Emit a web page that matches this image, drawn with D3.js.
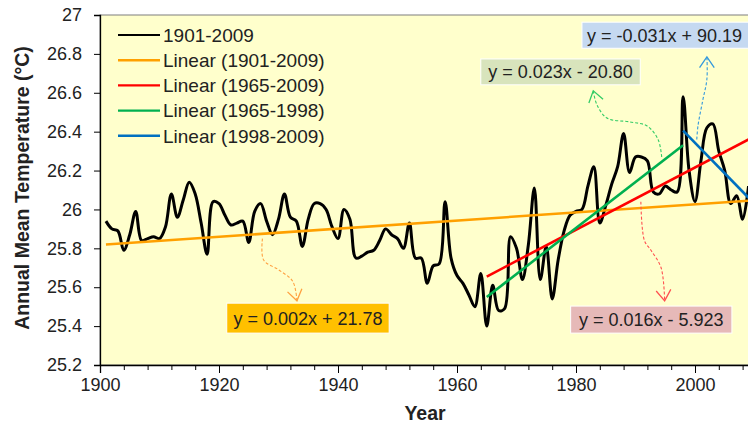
<!DOCTYPE html>
<html>
<head>
<meta charset="utf-8">
<script src="https://d3js.org/d3.v7.min.js"></script>
<style>
  body { margin: 0; background: #fff; }
  text { font-family: Arial, "Liberation Sans", sans-serif; fill: #222; }
</style>
</head>
<body>
<script>
/*
  Data
*/
var firstYear = 1901;
var temps = [
  25.94, 25.90, 25.89, 25.79, 25.87, 25.99, 25.84, 25.85, 25.86, 25.85,
  25.91, 26.08, 25.96, 26.05, 26.14, 26.08, 25.93, 25.77, 26.04, 26.03,
  25.97, 25.92, 25.93, 25.94, 25.83, 25.99, 26.03, 25.94, 25.87, 25.95,
  26.08, 25.96, 25.94, 25.81, 25.95, 26.03, 26.03, 26.00, 25.91, 25.85,
  26.00, 25.95, 25.75, 25.76, 25.78, 25.79, 25.84, 25.90, 25.87, 25.85,
  25.80, 25.93, 25.75, 25.75, 25.62, 25.71, 25.72, 26.04, 25.75, 25.66,
  25.62, 25.56, 25.50, 25.67, 25.40, 25.61, 25.48, 25.49, 25.86, 25.80,
  25.64, 25.82, 26.11, 25.64, 25.81, 25.54, 25.74, 25.89, 25.97, 25.99,
  26.00, 26.12, 26.22, 25.93, 26.02, 26.13, 26.22, 26.39, 26.19, 26.27,
  26.27, 26.25, 26.09, 26.08, 26.12, 26.10, 26.09, 26.58, 26.20, 26.04,
  26.25, 26.42, 26.44, 26.30, 26.20, 26.03, 26.07, 25.95, 26.12
];

// trend lines: [startYear, startTemp, endYear, endTemp]
var trendNames  = ["Linear (1901-2009)", "Linear (1965-2009)", "Linear (1965-1998)", "Linear (1998-2009)"];
var trendColors = ["#FFA000", "#FF0000", "#00B050", "#0070C0"];
var trendEnds   = [
  [1901, 25.82, 2009, 26.045],
  [1965, 25.655, 2009, 26.36],
  [1965, 25.55, 1998, 26.33],
  [1998, 26.405, 2009, 26.06]
];

// equation labels and the dashed arrows pointing at them
var eqTexts  = ["y = 0.002x + 21.78", "y = 0.016x - 5.923", "y = 0.023x - 20.80", "y = -0.031x + 90.19"];
var eqFills  = ["#FFC000", "#E6B9B8", "#D8E4BC", "#C5D9F1"];
var eqArrowColors = ["#FFA040", "#FF5050", "#33CC66", "#3399DD"];
// boxes: [yearLeft, tempTop, yearRight, tempBottom]
var eqBoxes  = [
  [1921.3, 25.518, 1948.6, 25.364],
  [1979.1, 25.503, 2006.2, 25.364],
  [1964.0, 26.774, 1990.8, 26.641],
  [1981.0, 26.963, 2011.0, 26.829]
];
var eqArrows = [
  [[1927.3, 25.85], [1927.5, 25.74], [1930, 25.69], [1932.4, 25.63], [1933.1, 25.53]],
  [[1990.9, 26.04], [1991.5, 25.84], [1992.6, 25.79], [1994.3, 25.70], [1994.9, 25.53]],
  [[1994.4, 26.27], [1993.8, 26.36], [1991.9, 26.43], [1989.1, 26.45], [1985.2, 26.47], [1983.5, 26.54], [1982.9, 26.61]],
  [[2000.3, 26.36], [2000.5, 26.43], [2001.3, 26.56], [2002.0, 26.67], [2002.0, 26.785]]
];

var yTicks = [25.2, 25.4, 25.6, 25.8, 26, 26.2, 26.4, 26.6, 26.8, 27];
var xTicks = [1900, 1920, 1940, 1960, 1980, 2000];

/*
  Setup
*/
var width = 748, height = 427;
var plotLeft = 100, plotTop = 15, plotBottom = 365;

var svg = d3.select("body").append("svg")
  .attr("width", width)
  .attr("height", height);

var x = d3.scaleLinear().domain([1900, 2010]).range([plotLeft, plotLeft + 110 * 5.95]);
var y = d3.scaleLinear().domain([25.2, 27]).range([plotBottom, plotTop]);

// plot area
svg.append("rect")
  .attr("x", plotLeft).attr("y", plotTop)
  .attr("width", x(2010) - plotLeft + 5).attr("height", plotBottom - plotTop)
  .attr("fill", "#FFFFCC")
  .attr("stroke", "#7f7f7f").attr("stroke-width", 1);

/*
  Axes
*/
var yAxis = d3.axisLeft(y)
  .tickValues(yTicks)
  .tickSize(6)
  .tickPadding(12)
  .tickFormat(function(d) { return String(+d.toFixed(1)); });
var gy = svg.append("g").attr("transform", "translate(" + plotLeft + ",0)").call(yAxis);

var xMinor = d3.range(1900, 2011, 4);
var gxMinor = svg.append("g").attr("transform", "translate(0," + plotBottom + ")")
  .call(d3.axisBottom(x).tickValues(xMinor).tickSize(5).tickFormat(""));
gxMinor.select(".domain").remove();

var gx = svg.append("g").attr("transform", "translate(0," + plotBottom + ")")
  .call(d3.axisBottom(x).tickValues(xTicks).tickSize(8).tickPadding(5).tickFormat(d3.format("d")));

svg.selectAll(".domain").attr("stroke", "#000").attr("stroke-width", 1.3);
svg.selectAll(".tick line").attr("stroke", "#000");
svg.selectAll(".tick text").style("font-size", "18px").attr("fill", "#222");

svg.append("text")
  .attr("transform", "translate(22," + ((plotTop + plotBottom) / 2 - 2) + ") rotate(-90)")
  .attr("text-anchor", "middle")
  .attr("dy", "0.35em")
  .style("font-size", "19.5px").style("font-weight", "bold")
  .text("Annual Mean Temperature (\u00b0C)");

svg.append("text")
  .attr("x", 425).attr("y", 420)
  .attr("text-anchor", "middle")
  .style("font-size", "19.5px").style("font-weight", "bold")
  .text("Year");

/*
  Series
*/
var series = temps.map(function(t, i) { return { year: firstYear + i, temp: t }; });

var plot = svg.append("g");

plot.append("path")
  .datum(series)
  .attr("fill", "none")
  .attr("stroke", "#000")
  .attr("stroke-width", 3)
  .attr("stroke-linejoin", "round")
  .attr("d", d3.line()
    .x(function(d) { return x(d.year); })
    .y(function(d) { return y(d.temp); })
    .curve(d3.curveCatmullRom.alpha(0.5)));

trendEnds.forEach(function(t, i) {
  plot.append("line")
    .attr("x1", x(t[0])).attr("y1", y(t[1]))
    .attr("x2", x(t[2])).attr("y2", y(t[3]))
    .attr("stroke", trendColors[i])
    .attr("stroke-width", 2.6);
});

/*
  Equation labels with dashed arrows
*/
var arrowLine = d3.line()
  .x(function(d) { return x(d[0]); })
  .y(function(d) { return y(d[1]); })
  .curve(d3.curveCatmullRom.alpha(0.5));

eqArrows.forEach(function(pts, i) {
  plot.append("path")
    .attr("d", arrowLine(pts))
    .attr("fill", "none")
    .attr("stroke", eqArrowColors[i])
    .attr("stroke-width", 1.1)
    .attr("stroke-dasharray", "3,2");

  // open arrow head at the last point
  var a = pts[pts.length - 2], b = pts[pts.length - 1];
  var ang = Math.atan2(y(b[1]) - y(a[1]), x(b[0]) - x(a[0]));
  var len = 13, spread = 0.6;
  var tx = x(b[0]), ty = y(b[1]);
  var head = [
    [tx - len * Math.cos(ang - spread), ty - len * Math.sin(ang - spread)],
    [tx, ty],
    [tx - len * Math.cos(ang + spread), ty - len * Math.sin(ang + spread)]
  ];
  plot.append("path")
    .attr("d", d3.line()(head))
    .attr("fill", "none")
    .attr("stroke", eqArrowColors[i])
    .attr("stroke-width", 1.3);
});

eqBoxes.forEach(function(b, i) {
  var bx = x(b[0]), by = y(b[1]), bw = x(b[2]) - x(b[0]), bh = y(b[3]) - y(b[1]);
  svg.append("rect")
    .attr("x", bx).attr("y", by)
    .attr("width", bw).attr("height", bh)
    .attr("fill", eqFills[i])
    .attr("stroke", "#fff").attr("stroke-width", 1);
  svg.append("text")
    .attr("x", i == 3 ? bx + 5 : bx + bw / 2)
    .attr("y", by + bh / 2)
    .attr("dy", "0.36em")
    .attr("text-anchor", i == 3 ? "start" : "middle")
    .style("font-size", "18px")
    .text(eqTexts[i]);
});

/*
  Legend
*/
var legendNames = ["1901-2009"].concat(trendNames);
var legendColors = ["#000"].concat(trendColors);
var legend = svg.append("g");
legendNames.forEach(function(n, i) {
  var ly = 35 + i * 25.2;
  legend.append("line")
    .attr("x1", 118).attr("x2", 160)
    .attr("y1", ly).attr("y2", ly)
    .attr("stroke", legendColors[i])
    .attr("stroke-width", i == 0 ? 2 : 2.4);
  legend.append("text")
    .attr("x", 163).attr("y", ly)
    .attr("dy", "0.36em")
    .style("font-size", "19px")
    .text(n);
});
</script>
</body>
</html>
